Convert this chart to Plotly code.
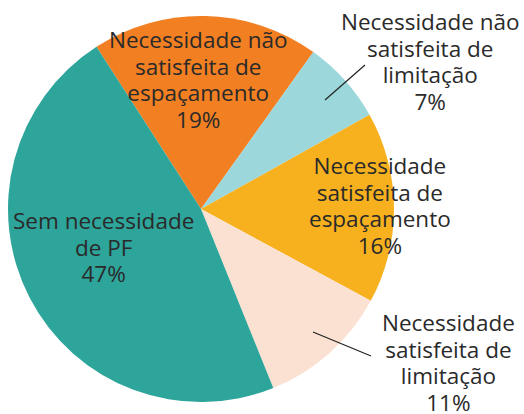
import plotly.graph_objects as go

labels = [
    "Necessidade não<br>satisfeita de<br>espaçamento",
    "Necessidade não<br>satisfeita de<br>limitação",
    "Necessidade<br>satisfeita de<br>espaçamento",
    "Necessidade<br>satisfeita de<br>limitação",
    "Sem necessidade<br>de PF",
]
values = [19, 7, 16, 11, 47]
colors = ["#F27F22", "#9CD7DC", "#F7B11E", "#FAE1D1", "#2EA59B"]

# label placement (pixel coords in 524x414 canvas): center of first line
label_pos = [(198, 40), (430, 22), (380, 166), (448, 323), (103, 220)]
# leader lines for outside labels: (x0, y0, x1, y1) pixels, None if inside
leaders = [None, (325, 100, 365, 65), None, (313, 332, 371, 356), None]

W, H = 524, 414
cx, cy, r = 201, 209, 193
LINE = 26.6
GLYPH = 22.5

fig = go.Figure(go.Pie(
    labels=[l.replace("<br>", " ") for l in labels],
    values=values,
    marker=dict(colors=colors, line=dict(width=0)),
    sort=False,
    direction="clockwise",
    rotation=-32.8,
    textinfo="none",
    showlegend=False,
    domain=dict(x=[(cx - r) / W, (cx + r) / W], y=[1 - (cy + r) / H, 1 - (cy - r) / H]),
))

for lab, val, (px, py), ld in zip(labels, values, label_pos, leaders):
    lines = lab.split("<br>") + [f"{val}%"]
    n = len(lines)
    text = "<br>".join(f'<span style="font-size:{GLYPH}px">{t}</span>' for t in lines)
    yc = py + (n - 1) / 2 * LINE
    fig.add_annotation(
        x=px / W, y=1 - yc / H, xref="paper", yref="paper",
        text=text, showarrow=False,
        font=dict(family="Open Sans, sans-serif", size=LINE / 1.3, color="#2a2a2a"),
        align="center", xanchor="center", yanchor="middle",
    )
    if ld:
        x0, y0, x1, y1 = ld
        fig.add_shape(type="line", xref="paper", yref="paper",
                      x0=x0 / W, y0=1 - y0 / H, x1=x1 / W, y1=1 - y1 / H,
                      line=dict(color="#222", width=1.2))

fig.update_layout(
    width=W, height=H,
    margin=dict(l=0, r=0, t=0, b=0),
    paper_bgcolor="white", plot_bgcolor="white",
)
fig.write_html("out.html", config={"displayModeBar": False},
               post_script="document.body.style.margin='0';document.body.style.overflow='hidden';")
